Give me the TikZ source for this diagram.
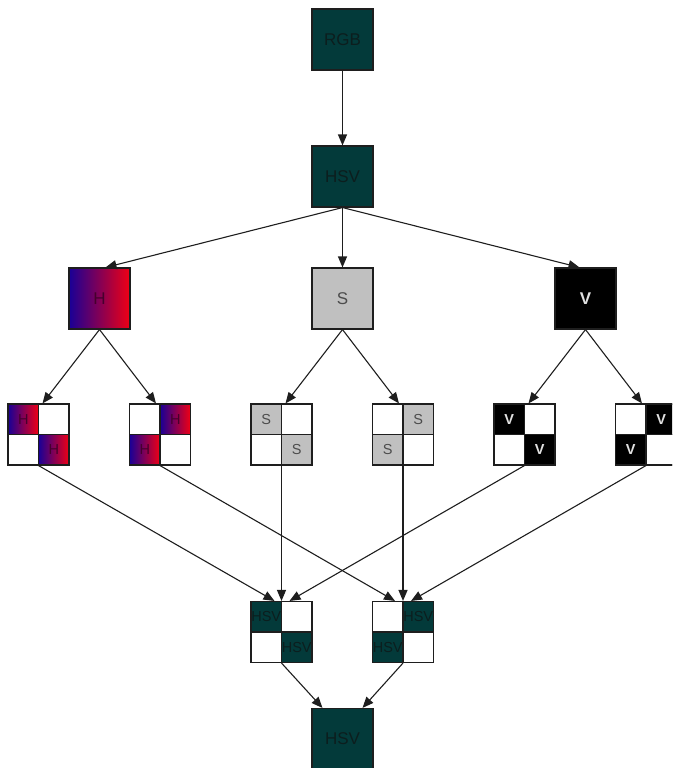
\documentclass[tikz,border=0pt]{standalone}
\usepackage{fontspec}
\setmainfont{Liberation Sans}
\usetikzlibrary{arrows.meta}
\definecolor{teal0}{RGB}{3,58,58}
\definecolor{tealtxt}{RGB}{12,30,30}
\definecolor{sgray}{RGB}{192,192,192}
\definecolor{hblue}{RGB}{25,0,150}
\definecolor{hred}{RGB}{240,0,20}
\definecolor{htxt}{RGB}{70,0,45}
\definecolor{edgec}{RGB}{30,30,30}
\newcommand\qbox[6]{%
  \node[box,fill=white] (#1) at (#2,#3) {};
  \ifnum#6=1
    \node[cell,#4] at ([shift={(-15.25,-15.25)}]#1.center) {#5};
    \node[cell,#4] at ([shift={(15.25,15.25)}]#1.center) {#5};
    \node[cell] at ([shift={(15.25,-15.25)}]#1.center) {};
    \node[cell] at ([shift={(-15.25,15.25)}]#1.center) {};
  \else
    \node[cell,#4] at ([shift={(15.25,-15.25)}]#1.center) {#5};
    \node[cell,#4] at ([shift={(-15.25,15.25)}]#1.center) {#5};
    \node[cell] at ([shift={(-15.25,-15.25)}]#1.center) {};
    \node[cell] at ([shift={(15.25,15.25)}]#1.center) {};
  \fi}
\begin{document}
\begin{tikzpicture}[x=1pt,y=-1pt,
  box/.style={draw=edgec, line width=1.1pt, minimum size=61pt, inner sep=0pt, font=\fontsize{17}{17}\selectfont},
  cell/.style={draw=edgec, line width=1.1pt, minimum size=30.5pt, inner sep=0pt, font=\fontsize{14.5}{14.5}\selectfont},
  tealbox/.style={fill=teal0, text=tealtxt},
  hbox/.style={left color=hblue, right color=hred, text=htxt},
  sbox/.style={fill=sgray, text=black!70},
  vbox/.style={fill=black, text=white!88!black},
  arr/.style={draw=edgec, line width=1.1pt, -{Triangle[length=11pt,width=9pt]}}
]
\useasboundingbox (0,0) rectangle (672,768);
\clip (0,0) rectangle (672,768);
% top
\node[box,tealbox] (rgb) at (342.5,39.5) {RGB};
\node[box,tealbox] (hsv) at (342.5,176.5) {HSV};
% row 3
\node[box,hbox] (h) at (99.5,298.5) {H};
\node[box,sbox] (s) at (342.5,298.5) {S};
\node[box,vbox] (v) at (585.5,298.5) {\bfseries V};
% row 4
\qbox{q1}{38.5}{434.5}{hbox}{H}{1}
\qbox{q2}{160}{434.5}{hbox}{H}{2}
\qbox{q3}{281.5}{434.5}{sbox}{S}{1}
\qbox{q4}{403}{434.5}{sbox}{S}{2}
\qbox{q5}{524.5}{434.5}{vbox}{\bfseries V}{1}
\qbox{q6}{646}{434.5}{vbox}{\bfseries V}{2}
% row 5
\qbox{r1}{281.5}{632}{tealbox}{HSV}{1}
\qbox{r2}{403}{632}{tealbox}{HSV}{2}
% row 6
\node[box,tealbox] (out) at (342.5,739) {HSV};
% edges
\draw[arr] (rgb.south) -- (hsv.north);
\draw[arr] (hsv.south) -- ([xshift=6pt]h.north);
\draw[arr] (hsv.south) -- (s.north);
\draw[arr] (hsv.south) -- ([xshift=-6pt]v.north);
\draw[arr] (h.south) -- ([xshift=4pt]q1.north);
\draw[arr] (h.south) -- ([xshift=-4pt]q2.north);
\draw[arr] (s.south) -- ([xshift=4pt]q3.north);
\draw[arr] (s.south) -- ([xshift=-4pt]q4.north);
\draw[arr] (v.south) -- ([xshift=4pt]q5.north);
\draw[arr] (v.south) -- ([xshift=-4pt]q6.north);
\draw[arr] (q1.south) -- ([xshift=-7pt]r1.north);
\draw[arr] (q3.south) -- (r1.north);
\draw[arr] (q5.south) -- ([xshift=8pt]r1.north);
\draw[arr] (q2.south) -- ([xshift=-8pt]r2.north);
\draw[arr] (q4.south) -- (r2.north);
\draw[arr] (q6.south) -- ([xshift=8pt]r2.north);
\draw[arr] (r1.south) -- ([xshift=-20pt]out.north);
\draw[arr] (r2.south) -- ([xshift=20pt]out.north);
\end{tikzpicture}
\end{document}
